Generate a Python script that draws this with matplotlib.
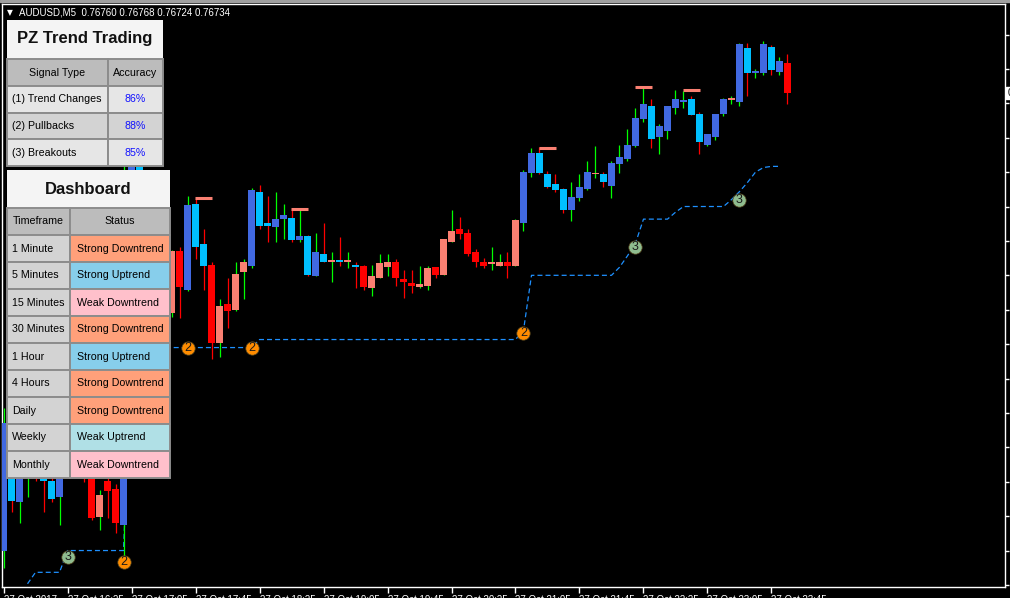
import numpy as np
import matplotlib
matplotlib.use("Agg")
import matplotlib.pyplot as plt
from matplotlib.patches import Rectangle

plt.rcParams["font.family"] = ["Liberation Sans", "DejaVu Sans"]
plt.rcParams["lines.scale_dashes"] = False

# AUDUSD M5, 27 Oct 2017 15:45 .. 23:55, prices in points (1 point = 0.00001)
POINT = 1e-5
opens = np.array([
    76335, 76431, 76377, 76405, 76427, 76414, 76396, 76382, 76414, 76431,
    76423, 76405, 76364, 76396, 76389, 76357, 76641, 76680, 76654, 76614,
    76588, 76542, 76596, 76562, 76637, 76602, 76584, 76516, 76550, 76545,
    76578, 76583, 76648, 76621, 76617, 76624, 76625, 76606, 76609, 76574,
    76594, 76587, 76588, 76587, 76584, 76583, 76564, 76573, 76582, 76587,
    76572, 76568, 76565, 76566, 76582, 76575, 76604, 76615, 76612, 76595,
    76587, 76585, 76583, 76587, 76583, 76621, 76664, 76682, 76663, 76655,
    76650, 76632, 76642, 76650, 76663, 76663, 76653, 76672, 76676, 76688,
    76711, 76723, 76696, 76701, 76721, 76726, 76729, 76716, 76689, 76696,
    76716, 76728, 76726, 76773, 76751, 76751, 76774, 76752, 76760]) * POINT
highs = np.array([
    76459, 76440, 76427, 76440, 76436, 76418, 76405, 76423, 76440, 76438,
    76427, 76410, 76388, 76405, 76393, 76684, 76693, 76689, 76658, 76619,
    76593, 76597, 76600, 76644, 76642, 76615, 76587, 76554, 76573, 76587,
    76589, 76651, 76654, 76644, 76648, 76637, 76633, 76633, 76610, 76612,
    76621, 76595, 76608, 76595, 76587, 76584, 76584, 76594, 76594, 76589,
    76580, 76580, 76583, 76583, 76582, 76607, 76632, 76626, 76615, 76598,
    76590, 76600, 76594, 76595, 76624, 76667, 76686, 76687, 76666, 76663,
    76651, 76656, 76663, 76675, 76688, 76665, 76675, 76689, 76703, 76721,
    76739, 76729, 76707, 76723, 76737, 76736, 76731, 76717, 76698, 76716,
    76730, 76731, 76778, 76778, 76755, 76779, 76776, 76765, 76768]) * POINT
lows = np.array([
    76320, 76369, 76359, 76382, 76396, 76369, 76377, 76357, 76405, 76412,
    76395, 76362, 76353, 76363, 76350, 76325, 76632, 76645, 76606, 76580,
    76545, 76539, 76538, 76561, 76589, 76562, 76502, 76504, 76529, 76544,
    76554, 76581, 76615, 76604, 76604, 76607, 76604, 76604, 76574, 76574,
    76587, 76569, 76583, 76581, 76564, 76562, 76557, 76573, 76574, 76566,
    76555, 76560, 76564, 76562, 76573, 76575, 76604, 76607, 76592, 76582,
    76581, 76580, 76583, 76573, 76583, 76614, 76661, 76663, 76651, 76648,
    76629, 76622, 76640, 76649, 76660, 76652, 76642, 76664, 76675, 76687,
    76709, 76686, 76681, 76694, 76716, 76721, 76715, 76681, 76688, 76693,
    76714, 76724, 76723, 76731, 76747, 76750, 76750, 76750, 76724]) * POINT
closes = np.array([
    76446, 76378, 76418, 76431, 76405, 76396, 76380, 76414, 76431, 76418,
    76405, 76363, 76383, 76387, 76359, 76641, 76684, 76654, 76614, 76588,
    76553, 76596, 76565, 76636, 76600, 76583, 76516, 76548, 76544, 76576,
    76587, 76649, 76618, 76618, 76624, 76628, 76606, 76609, 76575, 76595,
    76587, 76588, 76587, 76588, 76582, 76565, 76574, 76586, 76587, 76573,
    76569, 76566, 76567, 76581, 76575, 76607, 76614, 76611, 76594, 76587,
    76583, 76587, 76587, 76583, 76623, 76665, 76682, 76664, 76652, 76649,
    76632, 76643, 76652, 76665, 76664, 76656, 76673, 76678, 76689, 76712,
    76724, 76694, 76705, 76723, 76729, 76728, 76715, 76691, 76698, 76716,
    76729, 76729, 76777, 76751, 76753, 76777, 76754, 76762, 76734]) * POINT
# trend state of the indicator: 1 = up, -1 = down
trend = np.array([
    1, 1, 1, 1, 1, 1, 1, 1, 1, 1,
    -1, -1, -1, -1, -1, 1, 1, 1, 1, 1,
    -1, -1, -1, 1, 1, 1, -1, -1, -1, -1,
    -1, 1, 1, 1, 1, 1, 1, 1, 1, 1,
    1, -1, 1, -1, 1, -1, -1, -1, -1, -1,
    -1, -1, -1, -1, -1, -1, -1, -1, -1, -1,
    -1, -1, -1, -1, -1, 1, 1, 1, 1, 1,
    1, 1, 1, 1, -1, 1, 1, 1, 1, 1,
    1, 1, 1, 1, 1, 1, 1, 1, 1, 1,
    1, -1, 1, 1, 1, 1, 1, 1, -1])
nan = np.nan
trail = np.array([
    nan, nan, nan, 76306, 76316, 76316, 76316, 76316, 76335, 76335,
    76335, 76335, 76335, 76335, 76335, 76335, 76512, 76512, 76512, 76512,
    76512, 76512, 76512, 76512, 76512, 76512, 76512, 76512, 76512, 76512,
    76512, 76512, 76519, 76519, 76519, 76519, 76519, 76519, 76519, 76519,
    76519, 76519, 76519, 76519, 76519, 76519, 76519, 76519, 76519, 76519,
    76519, 76519, 76519, 76519, 76519, 76519, 76519, 76519, 76519, 76519,
    76519, 76519, 76519, 76519, 76519, 76527, 76575, 76575, 76575, 76575,
    76575, 76575, 76575, 76575, 76575, 76575, 76575, 76582, 76592, 76603,
    76624, 76624, 76624, 76624, 76630, 76635, 76635, 76635, 76635, 76635,
    76635, 76641, 76648, 76656, 76665, 76669, 76670, 76670, nan]) * POINT

# numbered signals (bar index, price, signal type)
sig_idx = [8, 15, 23, 31, 65, 79, 92]
sig_price = np.array([76329, 76325, 76512, 76512, 76525, 76600, 76641]) * POINT
sig_type = [3, 2, 2, 2, 2, 3, 3]

# short horizontal marks above bars
mark_idx = np.array([24, 36, 67, 79, 85])
mark_price = np.array([76642, 76633, 76686, 76739, 76737]) * POINT

time_labels = ["27 Oct 2017", "27 Oct 16:25", "27 Oct 17:05", "27 Oct 17:45",
               "27 Oct 18:25", "27 Oct 19:05", "27 Oct 19:45", "27 Oct 20:25",
               "27 Oct 21:05", "27 Oct 21:45", "27 Oct 22:25", "27 Oct 23:05",
               "27 Oct 23:45"]
price_ticks = np.arange(76305, 76786, 30) * POINT

# panel contents
accuracy_rows = ["(1) Trend Changes", "(2) Pullbacks", "(3) Breakouts"]
accuracy_vals = ["86%", "88%", "85%"]
timeframes = ["1 Minute", "5 Minutes", "15 Minutes", "30 Minutes", "1 Hour",
              "4 Hours", "Daily", "Weekly", "Monthly"]
statuses = ["Strong Downtrend", "Strong Uptrend", "Weak Downtrend",
            "Strong Downtrend", "Strong Uptrend", "Strong Downtrend",
            "Strong Downtrend", "Weak Uptrend", "Weak Downtrend"]

W, H = 1010, 598
fig = plt.figure(figsize=(W / 100, H / 100), dpi=100, facecolor="black")
ax = fig.add_axes([2 / W, 11 / H, 1003 / W, 583 / H], facecolor="black")
ax.set_xlim(-0.19, 125.19)
ax.set_ylim(76303.2 * POINT, 76811.6 * POINT)

idx = np.arange(len(opens))
bull = closes >= opens
body_col = np.where(trend > 0, np.where(bull, "royalblue", "deepskyblue"),
                    np.where(bull, "salmon", "red"))
wick_col = np.where(bull, "lime", "red")

ax.plot(idx, trail, color="#1E90FF", lw=0.9, ls=(0, (3.6, 2.2)), zorder=2)
ax.vlines(idx, lows, highs, colors=wick_col, lw=0.9, zorder=3)
ax.bar(idx, np.maximum(np.abs(closes - opens), 1.2 * POINT),
       bottom=np.minimum(opens, closes), width=0.86, color=body_col,
       linewidth=0, zorder=4)
ax.hlines(mark_price, mark_idx - 0.05, mark_idx + 2.1, colors="salmon",
          lw=2.2, zorder=5)

sig_fill = {2: "darkorange", 3: "darkseagreen"}
for i, p, t in zip(sig_idx, sig_price, sig_type):
    ax.scatter(i, p, s=92, color=sig_fill[t], edgecolors="#5a4a20",
               linewidths=0.5, zorder=6)
    ax.text(i, p, str(t), fontsize=9, color="#1a1a1a", ha="center",
            va="center", zorder=7)

for s in ax.spines.values():
    s.set_color("white")
    s.set_linewidth(1)
ax.yaxis.tick_right()
ax.set_yticks(price_ticks)
ax.set_yticklabels([f"{v:.5f}" for v in price_ticks])
ax.set_xticks(idx[::8])
ax.set_xticklabels(time_labels, ha="left")
ax.tick_params(colors="white", labelcolor="white", labelsize=7, width=1)
ax.tick_params(axis="x", length=4, pad=1.5)
ax.tick_params(axis="y", length=3, pad=2)

ax.annotate(f"{closes[-1]:.5f}", xy=(1, closes[-1]),
            xycoords=("axes fraction", "data"), xytext=(2, 0),
            textcoords="offset points", fontsize=7, color="black",
            va="center", ha="left", annotation_clip=False,
            bbox=dict(boxstyle="square,pad=0.15", fc="white", ec="white"))

# top grey strip and symbol header
fig.add_artist(Rectangle((0, 1 - 2 / H), 1, 2 / H, transform=fig.transFigure,
                         color="#a0a0a0"))
fig.text(7 / W, 1 - 12.5 / H, "▼", fontsize=5.5, color="white", va="center",
         family=["DejaVu Sans"])
fig.text(19 / W, 1 - 12.5 / H,
         "AUDUSD,M5  0.76760 0.76768 0.76724 0.76734",
         fontsize=7, color="white", va="center")

# panels drawn in pixel coordinates
ov = fig.add_axes([0, 0, 1, 1], zorder=10)
ov.set_xlim(0, W)
ov.set_ylim(H, 0)
ov.axis("off")
ov.patch.set_alpha(0)


def cell(x0, y0, x1, y1, fc, border=True):
    ov.add_patch(Rectangle((x0, y0), x1 - x0, y1 - y0, facecolor=fc,
                           edgecolor="#8c8c8c" if border else fc,
                           lw=1.4 if border else 0))


# PZ Trend Trading panel
cell(7, 20, 163, 59, "#f4f4f4", border=False)
ov.text(85, 39, "PZ Trend Trading", fontsize=12, fontweight="bold",
        ha="center", va="center", color="#111111")
cell(7, 59, 108, 86, "#bcbcbc")
cell(108, 59, 163, 86, "#bcbcbc")
ov.text(57.5, 72.5, "Signal Type", fontsize=7.7, ha="center", va="center")
ov.text(135.5, 72.5, "Accuracy", fontsize=7.7, ha="center", va="center")
row_bg = ["#e6e6e6", "#d3d3d3", "#e6e6e6"]
for r, (name, val) in enumerate(zip(accuracy_rows, accuracy_vals)):
    y0 = 86 + 26.7 * r
    cell(7, y0, 108, y0 + 26.7, row_bg[r])
    cell(108, y0, 163, y0 + 26.7, row_bg[r])
    ov.text(12, y0 + 13.5, name, fontsize=7.7, ha="left", va="center")
    ov.text(135.5, y0 + 13.5, val, fontsize=7.7, ha="center", va="center",
            color="#1010ff")

# Dashboard panel
status_bg = {"Strong Downtrend": "#ffa07a", "Strong Uptrend": "#87ceeb",
             "Weak Downtrend": "#ffc0cb", "Weak Uptrend": "#b0e0e6"}
cell(7, 170, 170, 208, "#f4f4f4", border=False)
ov.text(88, 189, "Dashboard", fontsize=12, fontweight="bold",
        ha="center", va="center", color="#111111")
cell(7, 208, 70, 235, "#bcbcbc")
cell(70, 208, 170, 235, "#bcbcbc")
ov.text(38.5, 221.5, "Timeframe", fontsize=7.7, ha="center", va="center")
ov.text(120, 221.5, "Status", fontsize=7.7, ha="center", va="center")
for r, (tf, st) in enumerate(zip(timeframes, statuses)):
    y0 = 235 + 27 * r
    cell(7, y0, 70, y0 + 27, "#d3d3d3")
    cell(70, y0, 170, y0 + 27, status_bg[st])
    ov.text(12, y0 + 13.5, tf, fontsize=7.7, ha="left", va="center")
    ov.text(77, y0 + 13.5, st, fontsize=7.7, ha="left", va="center")

fig.savefig("out.png", dpi=100, facecolor="black")
